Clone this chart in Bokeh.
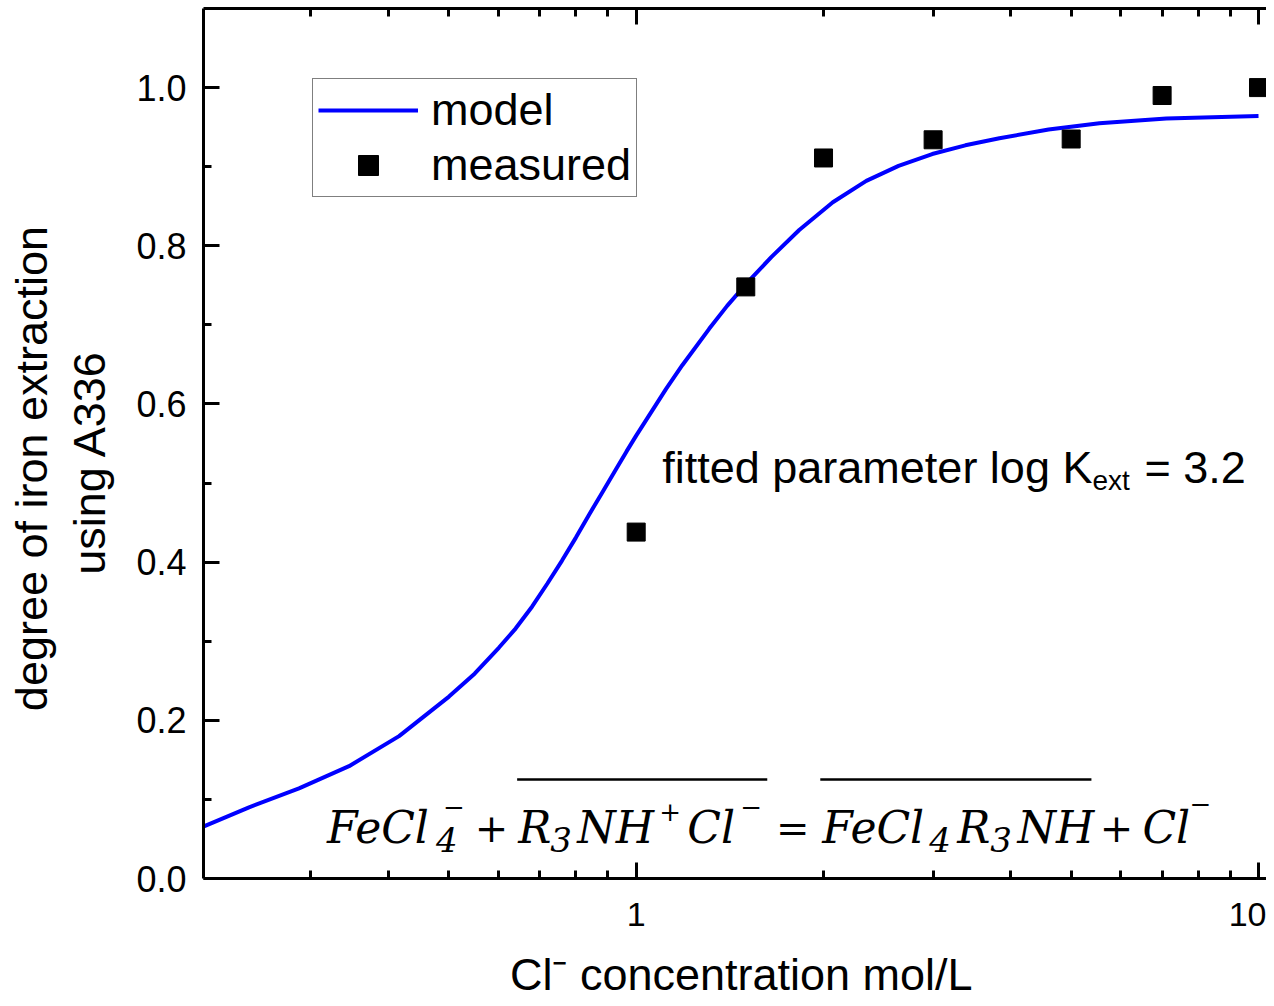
from bokeh.plotting import figure
from bokeh.models import (FixedTicker, LogAxis, Label, Legend, LegendItem, Range1d,
                          CustomJSTickFormatter)
from bokeh.embed import file_html
from bokeh.resources import INLINE

# ---------------- data ----------------
model_conc = [0.202, 0.2387, 0.2872, 0.3456, 0.4159, 0.5003, 0.55, 0.602, 0.64, 0.6806,
              0.72, 0.76, 0.80, 0.84, 0.885, 0.929, 0.965, 1.0, 1.117, 1.186, 1.31,
              1.40, 1.503, 1.65, 1.828, 2.07, 2.343, 2.64, 2.99, 3.38, 3.834, 4.6,
              5.55, 7.11, 10.0]
model_degree = [0.066, 0.090, 0.114, 0.142, 0.180, 0.230, 0.259, 0.292, 0.316, 0.344,
                0.373, 0.402, 0.431, 0.460, 0.490, 0.518, 0.540, 0.560, 0.619, 0.649,
                0.695, 0.724, 0.752, 0.786, 0.820, 0.855, 0.882, 0.901, 0.916, 0.927,
                0.936, 0.947, 0.955, 0.961, 0.964]

meas_conc = [1.0, 1.5, 2.0, 3.0, 5.0, 7.0, 10.0]
meas_degree = [0.438, 0.748, 0.911, 0.934, 0.935, 0.990, 1.000]

x_major_ticks = [1, 10]
x_major_labels = ["1", "10"]
x_minor_ticks = [0.2, 0.3, 0.4, 0.5, 0.6, 0.7, 0.8, 0.9, 2, 3, 4, 5, 6, 7, 8, 9]
y_major_ticks = [0.0, 0.2, 0.4, 0.6, 0.8, 1.0]
y_major_labels = ["0.0", "0.2", "0.4", "0.6", "0.8", "1.0"]
y_minor_ticks = [0.1, 0.3, 0.5, 0.7, 0.9]

x_title = "Cl\u207b concentration mol/L"
y_title_lines = ["degree of iron extraction", "using A336"]
series_names = ["model", "measured"]

FONT = "Liberation Sans"
EQF = "DejaVu Serif"
NB = "\u00a0"

# layout helpers: reference-picture pixel -> data position (for annotations only)
def rx(px):
    return 10 ** ((px - 637) / 622)

def ry(py):
    return (879 - py) / 791

# ---------------- figure ----------------
p = figure(width=1266, height=1006, x_axis_type="log",
           x_range=Range1d(0.2017, 10.30), y_range=Range1d(0.0, 1.1),
           output_backend="svg", toolbar_location=None,
           min_border_left=203, min_border_right=0, min_border_top=8,
           min_border_bottom=128)
p.grid.visible = False
p.outline_line_color = None
p.background_fill_color = "white"
p.border_fill_color = "white"

line_r = p.line(model_conc, model_degree, line_color="#0000ff", line_width=4)
sc_r = p.scatter(meas_conc, meas_degree, marker="square", size=18,
                 fill_color="black", line_color="black")

def style_axis(ax):
    ax.axis_line_width = 3
    ax.axis_line_color = "black"
    ax.major_tick_line_width = 3
    ax.minor_tick_line_width = 3
    ax.major_tick_in = 16
    ax.major_tick_out = 0
    ax.minor_tick_in = 8
    ax.minor_tick_out = 0
    ax.major_label_text_font = FONT
    ax.major_label_text_color = "black"
    ax.axis_label_text_font = FONT
    ax.axis_label_text_font_style = "normal"
    ax.axis_label_text_color = "black"

# bottom x axis
xa = p.xaxis[0]
xa.ticker = FixedTicker(ticks=x_major_ticks, minor_ticks=x_minor_ticks)
xa.major_label_overrides = {t: s for t, s in zip(x_major_ticks, x_major_labels)}
style_axis(xa)
xa.major_label_text_font_size = "34px"
xa.major_label_standoff = 24
xa.axis_label = NB + x_title
xa.axis_label_text_font_size = "45px"
xa.axis_label_standoff = 20

# left y axis
ya = p.yaxis[0]
ya.ticker = FixedTicker(ticks=y_major_ticks, minor_ticks=y_minor_ticks)
ya.major_label_overrides = {t: s for t, s in zip(y_major_ticks, y_major_labels)}
style_axis(ya)
ya.major_label_text_font_size = "36px"
ya.major_label_standoff = 17
ya.axis_label = y_title_lines[0] + NB * 4 + "\n" + y_title_lines[1] + NB * 3
ya.axis_label_text_font_size = "45px"
ya.axis_label_text_line_height = 1.15
ya.axis_label_standoff = 18

# top axis (ticks only)
ta = LogAxis(ticker=FixedTicker(ticks=x_major_ticks, minor_ticks=x_minor_ticks),
             formatter=CustomJSTickFormatter(code="return ''"))
style_axis(ta)
ta.major_label_text_font_size = "2px"
ta.major_label_standoff = 0
p.add_layout(ta, "above")

# legend
legend = Legend(items=[LegendItem(label=series_names[0], renderers=[line_r]),
                       LegendItem(label=series_names[1], renderers=[sc_r])],
                location=(109, 681), orientation="vertical",
                label_text_font=FONT, label_text_font_size="45px",
                label_text_color="black", glyph_width=100, glyph_height=50,
                label_standoff=13, padding=5, spacing=3, margin=0,
                border_line_color="black", border_line_width=1,
                background_fill_color="white", background_fill_alpha=1.0)
p.add_layout(legend)

# annotation: fitted parameter
p.add_layout(Label(x=rx(663), y=ry(468), text="fitted parameter log K",
                   text_font=FONT, text_font_size="45px", text_color="black",
                   text_baseline="alphabetic", text_align="left"))
p.add_layout(Label(x=rx(1093), y=ry(481), text="ext",
                   text_font=FONT, text_font_size="28px", text_color="black",
                   text_baseline="alphabetic", text_align="left"))
p.add_layout(Label(x=rx(1145), y=ry(468), text="= 3.2",
                   text_font=FONT, text_font_size="45px", text_color="black",
                   text_baseline="alphabetic", text_align="left"))

# reaction equation  FeCl4^- + (R3NH+Cl-)org = (FeCl4R3NH)org + Cl^-
# (text, ref x, align, ref baseline y, font size)
eq_parts = [
    ("FeCl", 328, "left", 828, 44), ("4", 437, "left", 840, 34), ("\u2212", 444, "left", 807, 26),
    ("+", 492.5, "center", 828, 40),
    ("R", 519, "left", 828, 44), ("3", 551, "left", 840, 34), ("NH", 578, "left", 828, 44),
    ("+", 660, "left", 812, 26), ("Cl", 688, "left", 828, 44), ("\u2212", 741, "left", 807, 26),
    ("=", 793.5, "center", 828, 40),
    ("FeCl", 823, "left", 828, 44), ("4", 930, "left", 840, 34), ("R", 958, "left", 828, 44),
    ("3", 991, "left", 840, 34), ("NH", 1018, "left", 828, 44),
    ("+", 1117, "center", 828, 40),
    ("Cl", 1143, "left", 828, 44), ("\u2212", 1190, "left", 804, 26),
]
for et, ex, al, ey, fs in eq_parts:
    p.add_layout(Label(x=rx(ex), y=ry(ey), text=et, text_font=EQF,
                       text_font_size=f"{fs}px", text_font_style="italic",
                       text_color="black", text_baseline="alphabetic", text_align=al))
# overlines (organic phase bars)
p.segment(x0=[rx(518), rx(821)], y0=[ry(780), ry(780)],
          x1=[rx(768), rx(1092)], y1=[ry(780), ry(780)],
          line_color="black", line_width=2.5)

open("out.html", "w").write(file_html(p, INLINE))
